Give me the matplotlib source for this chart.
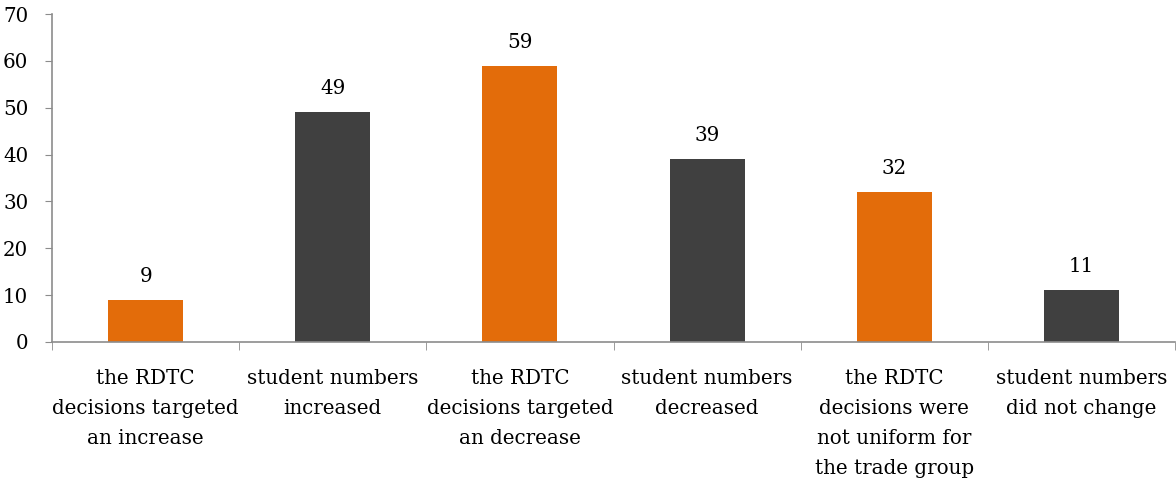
import numpy as np
import matplotlib.pyplot as plt
from matplotlib.ticker import FixedLocator, NullFormatter

categories = [
    'the RDTC\ndecisions targeted\nan increase',
    'student numbers\nincreased',
    'the RDTC\ndecisions targeted\nan decrease',
    'student numbers\ndecreased',
    'the RDTC\ndecisions were\nnot uniform for\nthe trade group',
    'student numbers\ndid not change',
]
values = [9, 49, 59, 39, 32, 11]
colors = ['#E36C0A', '#404040', '#E36C0A', '#404040', '#E36C0A', '#404040']

plt.rcParams['font.family'] = ['DejaVu Serif']
axis_col = '#8C8C8C'
fs = 14.3

fig = plt.figure(figsize=(11.76, 4.84), dpi=100)
ax = fig.add_axes([0.0442, 0.2934, 0.9550, 0.6776])

x = np.arange(len(values))
bars = ax.bar(x, values, width=0.4, color=colors)
for b, v in zip(bars, values):
    ax.text(b.get_x() + b.get_width() / 2, v + 3.0, str(v),
            ha='center', va='bottom', fontsize=fs, color='black')

ax.set_xlim(-0.5, len(values) - 0.5)
ax.set_ylim(0, 70)
ax.set_yticks(range(0, 71, 10))
ax.tick_params(axis='y', labelsize=fs, length=5, color=axis_col, pad=12)

# category labels at centres, tick marks at the boundaries
ax.set_xticks(x)
ax.set_xticklabels(categories, fontsize=fs, linespacing=1.74)
ax.tick_params(axis='x', which='major', length=0, pad=19.5)
ax.xaxis.set_minor_locator(FixedLocator(np.arange(-0.5, len(values), 1.0)))
ax.xaxis.set_minor_formatter(NullFormatter())
ax.tick_params(axis='x', which='minor', length=6, color=axis_col)

for s in ['top', 'right']:
    ax.spines[s].set_visible(False)
for s in ['left', 'bottom']:
    ax.spines[s].set_color(axis_col)
    ax.spines[s].set_linewidth(1.2)

fig.savefig('out.png', dpi=100)
